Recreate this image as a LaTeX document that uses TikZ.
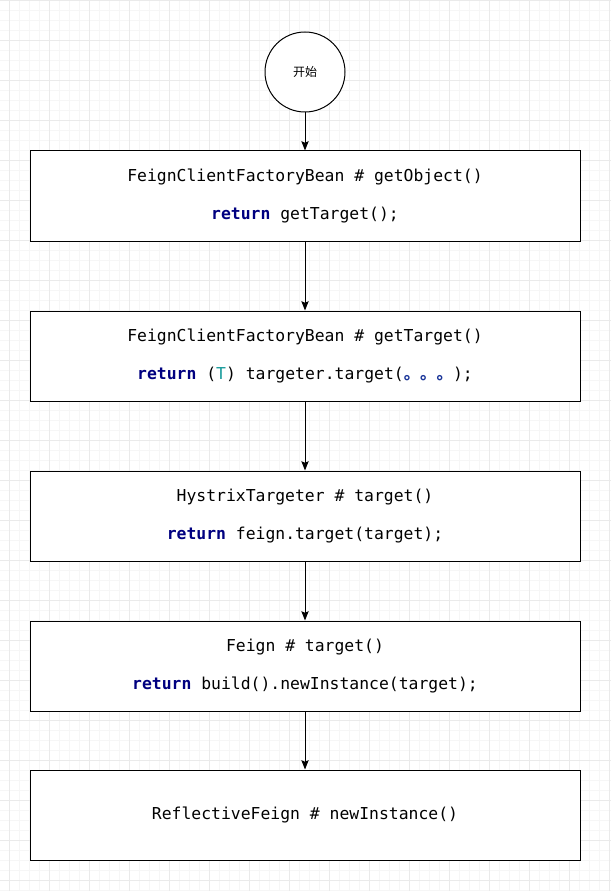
\documentclass[tikz,border=0pt]{standalone}
\usepackage{fontspec}
\setmonofont{DejaVu Sans Mono}
\newfontfamily\cjk{Noto Sans CJK SC}
\usepackage{xcolor}
\usetikzlibrary{arrows.meta}

\definecolor{kwblue}{HTML}{000080}
\definecolor{typeteal}{HTML}{1A9C9C}
\definecolor{dotblue}{HTML}{1A3599}
\definecolor{gridminor}{HTML}{F6F6F6}
\definecolor{gridmajor}{HTML}{EAEAEA}

\newcommand{\kw}[1]{{\bfseries\color{kwblue}#1}}

\begin{document}
\begin{tikzpicture}[x=0.75pt, y=-0.75pt, >={Stealth[length=7pt, width=5.5pt, inset=1.2pt]},
    box/.style={draw, line width=0.75pt, minimum width=412.5pt, minimum height=67.5pt,
        inner sep=0pt, align=center, font=\ttfamily\fontsize{12.3}{15}\selectfont},
    startnode/.style={draw, circle, line width=0.75pt, minimum size=60pt, inner sep=0pt,
        font=\cjk\fontsize{9}{11}\selectfont},
    flow/.style={->, line width=0.75pt}]
    % Background and grid
    \fill[white] (0,0) rectangle (611,891);
    \useasboundingbox (0,0) rectangle (611,891);
    \foreach \x in {9.5,19.5,...,609.5}
        \draw[gridminor, line width=0.75pt] (\x,0) -- (\x,891);
    \foreach \y in {0.5,10.5,...,890.5}
        \draw[gridminor, line width=0.75pt] (0,\y) -- (611,\y);
    \foreach \x in {9.5,49.5,...,609.5}
        \draw[gridmajor, line width=0.75pt] (\x,0) -- (\x,891);
    \foreach \y in {0.5,40.5,...,890.5}
        \draw[gridmajor, line width=0.75pt] (0,\y) -- (611,\y);

    % Start
    \node[startnode, fill=white] (start) at (305,72) {开始};

    % Call chain
    \node[box, fill=white] (getobject) at (305,196)
        {FeignClientFactoryBean \# getObject()\\[14pt]\kw{return} getTarget();};
    \node[box, fill=white] (gettarget) at (305,356)
        {FeignClientFactoryBean \# getTarget()\\[14pt]\kw{return} ({\color{typeteal}T}) targeter.target({\cjk\bfseries\color{dotblue}。。。});};
    \node[box, fill=white] (hystrix) at (305,516)
        {HystrixTargeter \# target()\\[14pt]\kw{return} feign.target(target);};
    \node[box, fill=white] (feign) at (305,666)
        {Feign \# target()\\[14pt]\kw{return} build().newInstance(target);};
    \node[box, fill=white] (reflective) at (305,815)
        {ReflectiveFeign \# newInstance()};

    % Arrows
    \draw[flow] (start) -- (getobject);
    \draw[flow] (getobject) -- (gettarget);
    \draw[flow] (gettarget) -- (hystrix);
    \draw[flow] (hystrix) -- (feign);
    \draw[flow] (feign) -- (reflective);
\end{tikzpicture}
\end{document}
